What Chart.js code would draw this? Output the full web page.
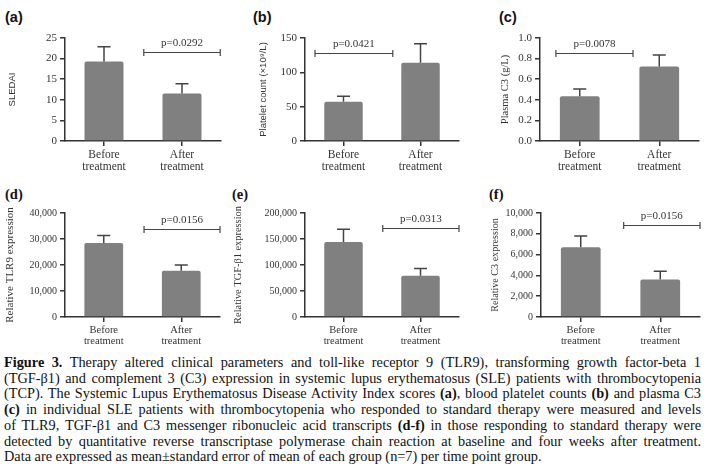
<!DOCTYPE html>
<html><head><meta charset="utf-8">
<script src="https://cdn.jsdelivr.net/npm/chart.js@4"></script>
<style>
body{margin:0;background:#fff;width:708px;height:474px;position:relative;overflow:hidden}
canvas{position:absolute}
.pl{position:absolute;font-weight:bold;font-size:14.5px;color:#111;line-height:14px}
.cap{position:absolute;left:4px;top:355px;width:697px;font-family:'Liberation Serif';font-size:14.3px;line-height:15.7px;color:#111}
.cap div{text-align:justify;text-align-last:justify;white-space:normal}
.cap div.last{text-align-last:left}
</style></head><body>
<div class="pl" style="left:5px;top:10px;font-family:'Liberation Sans'">(a)</div>
<div class="pl" style="left:253px;top:10px;font-family:'Liberation Sans'">(b)</div>
<div class="pl" style="left:499px;top:10px;font-family:'Liberation Sans'">(c)</div>
<div class="pl" style="left:5px;top:187px;font-family:'Liberation Serif'">(d)</div>
<div class="pl" style="left:232px;top:187px;font-family:'Liberation Serif'">(e)</div>
<div class="pl" style="left:489px;top:187px;font-family:'Liberation Serif'">(f)</div>
<div class="cap">
<div><b>Figure 3.</b> Therapy altered clinical parameters and toll-like receptor 9 (TLR9), transforming growth factor-beta 1</div>
<div>(TGF-β1) and complement 3 (C3) expression in systemic lupus erythematosus (SLE) patients with thrombocytopenia</div>
<div>(TCP). The Systemic Lupus Erythematosus Disease Activity Index scores <b>(a)</b>, blood platelet counts <b>(b)</b> and plasma C3</div>
<div><b>(c)</b> in individual SLE patients with thrombocytopenia who responded to standard therapy were measured and levels</div>
<div>of TLR9, TGF-β1 and C3 messenger ribonucleic acid transcripts <b>(d-f)</b> in those responding to standard therapy were</div>
<div>detected by quantitative reverse transcriptase polymerase chain reaction at baseline and four weeks after treatment.</div>
<div class="last">Data are expressed as mean±standard error of mean of each group (n=7) per time point group.</div>
</div>
<script>
// ---- data ----
const categories = [['Before','treatment'],['After','treatment']];
const sledaiMean = [19.3, 11.5];
const sledaiSem = [3.6, 2.4];
const plateletMean = [57.3, 114];
const plateletSem = [7.7, 27.7];
const plasmaC3Mean = [0.435, 0.723];
const plasmaC3Sem = [0.071, 0.112];
const tlr9Mean = [28450, 17800];
const tlr9Sem = [2850, 2200];
const tgfb1Mean = [144300, 79200];
const tgfb1Sem = [24500, 14300];
const c3Mean = [6700, 3600];
const c3Sem = [1100, 800];
const pLabels = ['p=0.0292','p=0.0421','p=0.0078','p=0.0156','p=0.0313','p=0.0156'];
const bracketLevels = [21.5, 128, 0.855, 34000, 170800, 8800];
const bracketSpans = [[0.51,1.49],[-0.37,0.64],[-0.30,0.67],[0.52,1.5],[0.51,1.5],[0.54,1.5]];
const yMax = [25, 150, 1, 40000, 200000, 10000];
const yStep = [5, 50, 0.2, 10000, 50000, 2000];
const yTitles = ['SLEDAI','Platelet count (×10⁹/L)','Plasma C3 (g/L)','Relative TLR9 expression','Relative TGF-β1 expression','Relative C3 expression'];

const means = [sledaiMean, plateletMean, plasmaC3Mean, tlr9Mean, tgfb1Mean, c3Mean];
const sems = [sledaiSem, plateletSem, plasmaC3Sem, tlr9Sem, tgfb1Sem, c3Sem];

// ---- layout ----
const layouts = [
  {x:0,   y:0,   w:236, h:178, l:65,  r:221, t:38,  b:141, tx:12,  tf:'Liberation Sans', ts:9.5,  tick:11},
  {x:236, y:0,   w:236, h:178, l:305, r:459, t:38,  b:141, tx:263, tf:'Liberation Sans', ts:9.5,  tick:11},
  {x:472, y:0,   w:236, h:178, l:540, r:699, t:38,  b:141, tx:505, tf:'Liberation Serif', ts:10.5, tick:11},
  {x:0,   y:180, w:236, h:172, l:65,  r:220, t:213, b:317, tx:10,  tf:'Liberation Serif', ts:11,  tick:10},
  {x:226, y:180, w:246, h:172, l:305, r:459, t:213, b:317, tx:238, tf:'Liberation Serif', ts:10.4, tick:10},
  {x:472, y:180, w:236, h:172, l:541, r:700, t:213, b:317, tx:495, tf:'Liberation Serif', ts:10.1, tick:10}
];

Chart.defaults.font.family = 'Liberation Serif';
const INK = '#333';

function errPlugin(sem){
  return {id:'err', afterDatasetsDraw(chart){
    const ctx = chart.ctx, ys = chart.scales.y, meta = chart.getDatasetMeta(0);
    const data = chart.data.datasets[0].data;
    ctx.save(); ctx.strokeStyle = '#444'; ctx.lineWidth = 1.5;
    meta.data.forEach((bar,i)=>{
      const y0 = ys.getPixelForValue(data[i]);
      const y1 = ys.getPixelForValue(data[i] + sem[i]);
      ctx.beginPath();
      ctx.moveTo(bar.x, y0); ctx.lineTo(bar.x, y1);
      ctx.moveTo(bar.x - 6.5, y1); ctx.lineTo(bar.x + 6.5, y1);
      ctx.stroke();
    });
    ctx.restore();
  }};
}
function bracketPlugin(level, span, label){
  return {id:'bracket', afterDraw(chart){
    const ctx = chart.ctx, xs = chart.scales.x, ys = chart.scales.y;
    const y = Math.round(ys.getPixelForValue(level)) + 0.5;
    const x0 = xs.getPixelForValue(span[0]), x1 = xs.getPixelForValue(span[1]);
    ctx.save(); ctx.strokeStyle = '#444'; ctx.lineWidth = 1.2;
    ctx.beginPath();
    ctx.moveTo(x0, y); ctx.lineTo(x1, y);
    ctx.moveTo(x0, y-3.5); ctx.lineTo(x0, y+3.5);
    ctx.moveTo(x1, y-3.5); ctx.lineTo(x1, y+3.5);
    ctx.stroke();
    ctx.fillStyle = INK; ctx.font = '11px "Liberation Serif"';
    ctx.textAlign = 'center'; ctx.textBaseline = 'middle';
    ctx.fillText(label, (x0+x1)/2, y - 9);
    ctx.restore();
  }};
}

layouts.forEach((L, i) => {
  const c = document.createElement('canvas');
  c.width = L.w; c.height = L.h;
  c.style.left = L.x + 'px'; c.style.top = L.y + 'px';
  document.body.appendChild(c);
  const lh = L.ts * 1.2;
  const padLeft = L.tx - L.x - lh/2;
  new Chart(c, {
    type: 'bar',
    data: {labels: categories, datasets: [{data: means[i], backgroundColor: '#808080',
      barPercentage: 0.5, categoryPercentage: 1, borderRadius: 2, borderSkipped: 'bottom'}]},
    options: {
      responsive: false, animation: false, events: [],
      layout: {padding: {left: padLeft, top: L.t - L.y, right: L.x + L.w - L.r, bottom: 0}},
      plugins: {legend: {display: false}, tooltip: {enabled: false}},
      scales: {
        x: {
          grid: {display: true, drawOnChartArea: false, offset: false, tickLength: 5, color: INK, lineWidth: 1.5},
          border: {color: INK, width: 1.5},
          ticks: {color: INK, font: {size: L.tick + 0.5, lineHeight: 1.05}, padding: 3, maxRotation: 0, autoSkip: false},
          afterFit(s){ s.height = L.y + L.h - L.b; }
        },
        y: {
          min: 0, max: yMax[i],
          ticks: {stepSize: yStep[i], color: INK, font: {size: L.tick}, padding: 3,
            callback: v => i === 2 ? v.toFixed(1) : v.toLocaleString('en-US')},
          grid: {drawOnChartArea: false, tickLength: 5, color: INK, lineWidth: 1.5},
          border: {color: INK, width: 1.5},
          title: {display: true, text: yTitles[i], color: INK, padding: 0, font: {family: L.tf, size: L.ts}},
          afterFit(s){ s.width = L.l - L.x - padLeft; }
        }
      }
    },
    plugins: [errPlugin(sems[i]), bracketPlugin(bracketLevels[i], bracketSpans[i], pLabels[i])]
  });
});
</script>
</body></html>
